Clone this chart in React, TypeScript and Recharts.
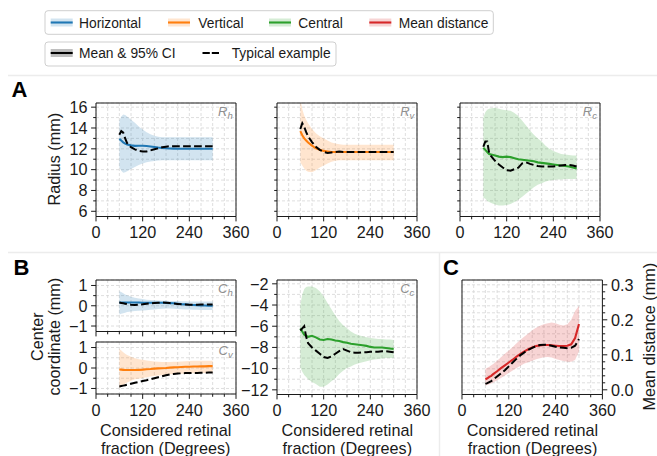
import React from 'react';
import { ComposedChart, Area, Line, XAxis, YAxis, CartesianGrid, ReferenceArea } from 'recharts';

const FONT = '"Liberation Sans", Arial, Helvetica, sans-serif';
const INK = '#1a1a1a';
const BLUE = '#1f77b4';
const ORANGE = '#ff7f0e';
const GREEN = '#2ca02c';
const RED = '#d62728';
const FS = 16.2;

// Considered retinal fraction (degrees)
const degrees = [60, 65, 70, 75, 80, 90, 100, 110, 120, 130, 140, 150, 160, 170, 180, 190, 200, 210, 220, 230, 240, 250, 260, 270, 280, 290, 300];

// A: radius (mm)
const rhMean = [12.95, 12.8, 12.62, 12.5, 12.42, 12.33, 12.28, 12.3, 12.3, 12.27, 12.22, 12.17, 12.12, 12.08, 12.05, 12.03, 12.02, 12.01, 12.0, 12.0, 12.0, 12.0, 12.0, 12.0, 12.0, 12.0, 12.0];
const rhHi = [14.7, 15.1, 15.3, 15.25, 15.1, 14.8, 14.5, 14.15, 13.85, 13.6, 13.4, 13.25, 13.15, 13.1, 13.1, 13.1, 13.1, 13.1, 13.1, 13.1, 13.1, 13.1, 13.1, 13.1, 13.1, 13.1, 13.1];
const rhLo = [10.2, 9.9, 9.7, 9.75, 9.85, 10.05, 10.25, 10.45, 10.6, 10.7, 10.78, 10.84, 10.88, 10.9, 10.9, 10.9, 10.9, 10.9, 10.9, 10.9, 10.9, 10.9, 10.9, 10.9, 10.9, 10.9, 10.9];
const rhTyp = [13.35, 13.7, 13.55, 13.0, 12.55, 12.15, 11.95, 11.8, 11.75, 11.75, 11.85, 11.95, 12.05, 12.15, 12.2, 12.25, 12.25, 12.25, 12.25, 12.25, 12.25, 12.25, 12.25, 12.25, 12.25, 12.25, 12.25];

const rvMean = [13.7, 13.3, 13.0, 12.8, 12.6, 12.3, 12.05, 11.9, 11.8, 11.75, 11.7, 11.7, 11.7, 11.7, 11.7, 11.7, 11.7, 11.7, 11.7, 11.7, 11.7, 11.7, 11.7, 11.7, 11.7, 11.7, 11.7];
const rvHi = [16.8, 15.8, 15.2, 14.8, 14.45, 13.9, 13.5, 13.2, 13.0, 12.8, 12.6, 12.5, 12.45, 12.4, 12.4, 12.4, 12.4, 12.4, 12.4, 12.4, 12.4, 12.4, 12.4, 12.4, 12.4, 12.4, 12.4];
const rvLo = [10.7, 10.4, 10.1, 9.9, 9.8, 9.75, 9.95, 10.2, 10.4, 10.6, 10.75, 10.85, 10.9, 10.9, 10.9, 10.9, 10.9, 10.9, 10.9, 10.9, 10.9, 10.9, 10.9, 10.9, 10.9, 10.9, 10.9];
const rvTyp = [13.9, 14.45, 14.1, 13.6, 13.2, 12.65, 12.2, 11.9, 11.7, 11.6, 11.65, 11.7, 11.75, 11.7, 11.7, 11.7, 11.7, 11.7, 11.7, 11.7, 11.7, 11.7, 11.7, 11.7, 11.7, 11.7, 11.7];

const rcMean = [12.1, 11.9, 11.7, 11.5, 11.45, 11.35, 11.25, 11.2, 11.25, 11.2, 11.1, 11.0, 10.95, 10.9, 10.85, 10.8, 10.7, 10.65, 10.6, 10.55, 10.5, 10.45, 10.4, 10.35, 10.3, 10.2, 10.1];
const rcHi = [15.0, 15.5, 15.75, 15.85, 15.9, 15.95, 15.85, 15.75, 15.7, 15.65, 15.45, 15.15, 14.7, 14.25, 13.75, 13.35, 13.0, 12.7, 12.3, 12.0, 11.8, 11.65, 11.5, 11.45, 11.4, 11.35, 11.35];
const rcLo = [7.3, 7.2, 7.0, 6.9, 6.8, 6.65, 6.55, 6.55, 6.6, 6.7, 6.9, 7.1, 7.4, 7.7, 8.0, 8.3, 8.55, 8.7, 8.85, 8.95, 9.0, 9.05, 9.05, 9.1, 9.1, 9.1, 9.1];
const rcTyp = [12.2, 12.7, 12.7, 11.6, 11.3, 10.85, 10.5, 10.2, 9.95, 9.9, 10.05, 10.2, 10.6, 10.7, 10.55, 10.45, 10.35, 10.3, 10.3, 10.3, 10.3, 10.35, 10.4, 10.45, 10.45, 10.4, 10.3];

// B: center coordinate (mm)
const chMean = [0.16, 0.16, 0.16, 0.16, 0.16, 0.16, 0.16, 0.16, 0.15, 0.15, 0.15, 0.15, 0.15, 0.15, 0.14, 0.13, 0.12, 0.1, 0.08, 0.07, 0.05, 0.04, 0.03, 0.02, 0.01, 0.0, 0.0];
const chHi = [0.72, 0.68, 0.62, 0.56, 0.52, 0.45, 0.4, 0.36, 0.33, 0.3, 0.28, 0.27, 0.26, 0.25, 0.25, 0.24, 0.24, 0.23, 0.22, 0.22, 0.21, 0.21, 0.21, 0.21, 0.21, 0.21, 0.21];
const chLo = [-0.43, -0.4, -0.37, -0.34, -0.31, -0.28, -0.26, -0.25, -0.24, -0.22, -0.2, -0.18, -0.16, -0.15, -0.14, -0.14, -0.15, -0.16, -0.17, -0.18, -0.19, -0.2, -0.2, -0.21, -0.21, -0.21, -0.21];
const chTyp = [0.16, 0.14, 0.12, 0.1, 0.08, 0.05, 0.04, 0.05, 0.07, 0.1, 0.12, 0.14, 0.15, 0.16, 0.15, 0.13, 0.11, 0.09, 0.07, 0.06, 0.05, 0.05, 0.05, 0.06, 0.06, 0.06, 0.06];

const cvMean = [-0.07, -0.08, -0.09, -0.1, -0.1, -0.1, -0.1, -0.09, -0.08, -0.06, -0.05, -0.03, -0.02, -0.01, 0.0, 0.02, 0.03, 0.04, 0.05, 0.06, 0.06, 0.07, 0.07, 0.08, 0.08, 0.09, 0.09];
const cvHi = [0.93, 0.85, 0.77, 0.7, 0.64, 0.55, 0.48, 0.43, 0.4, 0.37, 0.34, 0.32, 0.3, 0.29, 0.29, 0.29, 0.3, 0.31, 0.32, 0.33, 0.34, 0.35, 0.35, 0.36, 0.36, 0.36, 0.36];
const cvLo = [-0.98, -0.9, -0.83, -0.77, -0.71, -0.62, -0.55, -0.52, -0.49, -0.45, -0.42, -0.39, -0.37, -0.35, -0.33, -0.31, -0.3, -0.29, -0.28, -0.27, -0.26, -0.26, -0.25, -0.25, -0.25, -0.25, -0.25];
const cvTyp = [-0.9, -0.88, -0.86, -0.84, -0.82, -0.77, -0.72, -0.68, -0.64, -0.6, -0.55, -0.5, -0.45, -0.4, -0.35, -0.31, -0.29, -0.27, -0.26, -0.25, -0.25, -0.24, -0.24, -0.23, -0.23, -0.22, -0.22];

const ccMean = [-6.2, -6.5, -6.8, -6.9, -7.0, -6.9, -7.05, -7.25, -7.3, -7.2, -7.25, -7.35, -7.4, -7.5, -7.55, -7.65, -7.7, -7.75, -7.8, -7.85, -7.95, -8.0, -8.0, -8.0, -8.05, -8.1, -8.15];
const ccHi = [-4.0, -3.0, -2.5, -2.3, -2.25, -2.25, -2.4, -2.7, -3.2, -3.8, -4.4, -5.0, -5.5, -5.9, -6.2, -6.5, -6.7, -6.85, -6.95, -7.05, -7.1, -7.15, -7.2, -7.2, -7.25, -7.25, -7.3];
const ccLo = [-9.9, -10.3, -10.6, -10.8, -11.0, -11.25, -11.45, -11.7, -11.7, -11.5, -11.2, -10.9, -10.5, -10.2, -9.95, -9.8, -9.6, -9.5, -9.4, -9.3, -9.2, -9.15, -9.1, -9.05, -9.0, -9.0, -9.0];
const ccTyp = [-6.4, -6.2, -6.0, -7.0, -7.6, -8.0, -8.3, -8.6, -8.9, -9.0, -8.85, -8.6, -8.35, -8.15, -8.3, -8.45, -8.5, -8.5, -8.45, -8.45, -8.4, -8.4, -8.4, -8.35, -8.35, -8.4, -8.45];

// C: mean distance (mm)
const mdMean = [0.03, 0.033, 0.037, 0.04, 0.045, 0.053, 0.062, 0.07, 0.078, 0.086, 0.095, 0.103, 0.11, 0.116, 0.121, 0.125, 0.127, 0.128, 0.128, 0.127, 0.126, 0.125, 0.125, 0.126, 0.13, 0.148, 0.188];
const mdHi = [0.06, 0.063, 0.066, 0.07, 0.074, 0.083, 0.093, 0.103, 0.112, 0.122, 0.133, 0.143, 0.152, 0.161, 0.17, 0.177, 0.183, 0.187, 0.19, 0.192, 0.19, 0.186, 0.184, 0.187, 0.2, 0.225, 0.24];
const mdLo = [0.012, 0.014, 0.016, 0.018, 0.021, 0.027, 0.034, 0.041, 0.048, 0.055, 0.062, 0.069, 0.075, 0.079, 0.083, 0.087, 0.09, 0.093, 0.094, 0.092, 0.088, 0.085, 0.082, 0.08, 0.08, 0.085, 0.11];
const mdTyp = [0.017, 0.019, 0.022, 0.025, 0.029, 0.038, 0.047, 0.056, 0.067, 0.078, 0.089, 0.099, 0.107, 0.114, 0.12, 0.125, 0.128, 0.129, 0.128, 0.126, 0.123, 0.121, 0.12, 0.119, 0.12, 0.126, 0.145];

// Ticks
const xTicks = [0, 30, 60, 90, 120, 150, 180, 210, 240, 270, 300, 330, 360];
const xMajor = [0, 120, 240, 360];
const radiusTicks = [6, 7, 8, 9, 10, 11, 12, 13, 14, 15, 16];
const radiusMajor = [6, 8, 10, 12, 14, 16];
const centerTicks = [-1, -0.5, 0, 0.5, 1];
const centerMajor = [-1, 0, 1];
const centralTicks = [-12, -11, -10, -9, -8, -7, -6, -5, -4, -3, -2];
const centralMajor = [-12, -10, -8, -6, -4, -2];
const distTicks = [0, 0.02, 0.04, 0.06, 0.08, 0.1, 0.12, 0.14, 0.16, 0.18, 0.2, 0.22, 0.24, 0.26, 0.28, 0.3];
const distMajor = [0, 0.1, 0.2, 0.3];

const rowsOf = (lo: number[], hi: number[], mean: number[], typ: number[]) =>
  degrees.map((x, i) => ({ x, band: [lo[i], hi[i]], mean: mean[i], typ: typ[i] }));

const isIn = (v: number, arr: number[]) => arr.some((m) => Math.abs(m - v) < 1e-6);
const fmtNum = (v: number, digits = 0) => {
  const s = Math.abs(v).toFixed(digits);
  return v < -1e-9 ? '\u2212' + s : s;
};

const XTick = (props: any) => {
  const { x, y, payload, showLabels } = props;
  const v = payload.value;
  const major = isIn(v, xMajor);
  return (
    <g>
      <line x1={x} x2={x} y1={y} y2={y + (major ? 4.9 : 2.8)} stroke={INK} strokeWidth={1} />
      {major && showLabels ? (
        <text x={x} y={y + 21.5} textAnchor="middle" fontSize={FS} fill={INK} fontFamily={FONT}>
          {v}
        </text>
      ) : null}
    </g>
  );
};

const YTick = (props: any) => {
  const { x, y, payload, side, major, digits } = props;
  const v = payload.value;
  const isMajor = isIn(v, major);
  const dir = side === 'right' ? 1 : -1;
  return (
    <g>
      <line x1={x} x2={x + dir * (isMajor ? 4.9 : 2.8)} y1={y} y2={y} stroke={INK} strokeWidth={1} />
      {isMajor ? (
        <text
          x={x + dir * 8.5}
          y={y + 5.8}
          textAnchor={side === 'right' ? 'start' : 'end'}
          fontSize={FS}
          fill={INK}
          fontFamily={FONT}
        >
          {fmtNum(v, digits)}
        </text>
      ) : null}
    </g>
  );
};

const PADL = 46;
const PADR = 48;
const PADT = 12;
const PADB = 32;

type PanelProps = {
  x: number; y: number; w: number; h: number;
  domain: [number, number];
  yTicks: number[]; yMajor: number[]; digits?: number;
  rows: any[]; color: string; side?: 'left' | 'right'; xLabels?: boolean;
};

function Panel({ x, y, w, h, domain, yTicks, yMajor, digits = 0, rows, color, side = 'left', xLabels = true }: PanelProps) {
  const W = w + PADL + PADR;
  const H = h + PADT + PADB;
  return (
    <div style={{ position: 'absolute', left: x - PADL, top: y - PADT, width: W, height: H }}>
      <ComposedChart
        width={W}
        height={H}
        data={rows}
        margin={{ top: PADT, bottom: 0, left: side === 'left' ? 0 : PADL, right: side === 'left' ? PADR : 0 }}
      >
        <CartesianGrid stroke="#d6d6d6" strokeDasharray="3 2" strokeWidth={0.8} />
        <XAxis
          type="number"
          dataKey="x"
          domain={[0, 360]}
          ticks={xTicks}
          interval={0}
          tick={<XTick showLabels={xLabels} />}
          tickSize={0}
          tickMargin={0}
          tickLine={false}
          axisLine={false}
          height={PADB}
          allowDataOverflow
        />
        <YAxis
          type="number"
          orientation={side}
          domain={domain}
          ticks={yTicks}
          interval={0}
          tick={<YTick side={side} major={yMajor} digits={digits} />}
          tickSize={0}
          tickMargin={0}
          tickLine={false}
          axisLine={false}
          width={side === 'left' ? PADL : PADR}
          allowDataOverflow
        />
        <Area
          type="linear"
          dataKey="band"
          stroke="none"
          fill={color}
          fillOpacity={0.2}
          isAnimationActive={false}
          dot={false}
          activeDot={false}
        />
        <Line type="linear" dataKey="mean" stroke={color} strokeWidth={2.1} dot={false} activeDot={false} isAnimationActive={false} />
        <Line
          type="linear"
          dataKey="typ"
          stroke="#000"
          strokeWidth={2}
          strokeDasharray="7.7 3.3"
          dot={false}
          activeDot={false}
          isAnimationActive={false}
        />
        <ReferenceArea
          x1={0}
          x2={360}
          y1={domain[0]}
          y2={domain[1]}
          fill="none"
          fillOpacity={0}
          stroke={INK}
          strokeWidth={1}
          ifOverflow="visible"
        />
      </ComposedChart>
    </div>
  );
}

const legendTop = [
  { label: 'Horizontal', color: BLUE, hx: 50.7, tx: 79 },
  { label: 'Vertical', color: ORANGE, hx: 168, tx: 198.3 },
  { label: 'Central', color: GREEN, hx: 269, tx: 298.3 },
  { label: 'Mean distance', color: RED, hx: 369.3, tx: 398.7 },
];

const SubLabel = ({ x, y, main, sub }: { x: number; y: number; main: string; sub: string }) => (
  <text x={x} y={y} textAnchor="end" fill="#8f8f8f" fontFamily={FONT} fontStyle="italic">
    <tspan fontSize={13}>{main}</tspan>
    <tspan fontSize={9.5} dy={3}>{sub}</tspan>
  </text>
);

export default function App() {
  const A1 = { x: 95.7, y: 102.5, w: 140, h: 113.5 };
  const A2 = { x: 277.3, y: 102.5, w: 140, h: 113.5 };
  const A3 = { x: 460, y: 102.5, w: 140, h: 113.5 };
  const B1 = { x: 95.7, y: 279.5, w: 140, h: 51.5 };
  const B2 = { x: 95.7, y: 342, w: 140, h: 52 };
  const B3 = { x: 277.3, y: 279.5, w: 140, h: 114.5 };
  const C1 = { x: 462.3, y: 279.5, w: 140.4, h: 114.5 };
  const radiusDomain: [number, number] = [5.5, 16.4];
  const centerDomain: [number, number] = [-1.27, 1.27];

  return (
    <div style={{ position: 'absolute', left: 0, top: 0, width: 657, height: 456, background: '#fff', overflow: 'hidden', fontFamily: FONT }}>
      <Panel {...A1} domain={radiusDomain} yTicks={radiusTicks} yMajor={radiusMajor} rows={rowsOf(rhLo, rhHi, rhMean, rhTyp)} color={BLUE} />
      <Panel {...A2} domain={radiusDomain} yTicks={radiusTicks} yMajor={[]} rows={rowsOf(rvLo, rvHi, rvMean, rvTyp)} color={ORANGE} />
      <Panel {...A3} domain={radiusDomain} yTicks={radiusTicks} yMajor={[]} rows={rowsOf(rcLo, rcHi, rcMean, rcTyp)} color={GREEN} />
      <Panel {...B1} domain={centerDomain} yTicks={centerTicks} yMajor={centerMajor} rows={rowsOf(chLo, chHi, chMean, chTyp)} color={BLUE} xLabels={false} />
      <Panel {...B2} domain={centerDomain} yTicks={centerTicks} yMajor={centerMajor} rows={rowsOf(cvLo, cvHi, cvMean, cvTyp)} color={ORANGE} />
      <Panel {...B3} domain={[-12.44, -1.64]} yTicks={centralTicks} yMajor={centralMajor} rows={rowsOf(ccLo, ccHi, ccMean, ccTyp)} color={GREEN} />
      <Panel {...C1} domain={[-0.0134, 0.3137]} yTicks={distTicks} yMajor={distMajor} digits={1} rows={rowsOf(mdLo, mdHi, mdMean, mdTyp)} color={RED} side="right" />

      <svg width={657} height={456} style={{ position: 'absolute', left: 0, top: 0, pointerEvents: 'none' }} fontFamily={FONT}>
        {/* separators */}
        <line x1={8} x2={657} y1={75.5} y2={75.5} stroke="#ececec" strokeWidth={1.5} />
        <line x1={8} x2={657} y1={252.5} y2={252.5} stroke="#ececec" strokeWidth={1.5} />
        <line x1={439.5} x2={439.5} y1={252.5} y2={456} stroke="#ececec" strokeWidth={1.5} />

        {/* legends */}
        <rect x={45} y={10.7} width={448.3} height={23.6} rx={3} fill="#fff" stroke="#cfcfcf" strokeWidth={1} />
        {legendTop.map((e) => (
          <g key={e.label}>
            <rect x={e.hx} y={18.5} width={22} height={8} fill={e.color} fillOpacity={0.2} />
            <line x1={e.hx} x2={e.hx + 22} y1={22.5} y2={22.5} stroke={e.color} strokeWidth={2.1} />
            <text x={e.tx} y={27.5} fontSize={13.8} fill={INK}>{e.label}</text>
          </g>
        ))}
        <rect x={45} y={42} width={291} height={24} rx={3} fill="#fff" stroke="#cfcfcf" strokeWidth={1} />
        <rect x={50.7} y={49} width={22} height={8} fill="#000" fillOpacity={0.25} />
        <line x1={50.7} x2={72.7} y1={53} y2={53} stroke="#000" strokeWidth={2.1} />
        <text x={79} y={58} fontSize={13.8} fill={INK}>Mean &amp; 95% CI</text>
        <line x1={202.5} x2={219} y1={53} y2={53} stroke="#000" strokeWidth={2} strokeDasharray="7.3 2" />
        <text x={231.7} y={58} fontSize={13.8} fill={INK}>Typical example</text>

        {/* panel letters */}
        <text x={11.5} y={96.5} fontSize={22} fontWeight="bold" fill="#000">A</text>
        <text x={13.5} y={275} fontSize={22} fontWeight="bold" fill="#000">B</text>
        <text x={443} y={275} fontSize={22} fontWeight="bold" fill="#000">C</text>

        {/* sub labels */}
        <SubLabel x={A1.x + A1.w - 3} y={A1.y + 13} main="R" sub="h" />
        <SubLabel x={A2.x + A2.w - 3} y={A2.y + 13} main="R" sub="v" />
        <SubLabel x={A3.x + A3.w - 3} y={A3.y + 13} main="R" sub="c" />
        <SubLabel x={B1.x + B1.w - 3} y={B1.y + 13} main="C" sub="h" />
        <SubLabel x={B2.x + B2.w - 3} y={B2.y + 13} main="C" sub="v" />
        <SubLabel x={B3.x + B3.w - 3} y={B3.y + 13} main="C" sub="c" />

        {/* axis labels */}
        <text transform="rotate(-90)" x={-(A1.y + A1.h / 2)} y={59.5} textAnchor="middle" fontSize={FS} fill={INK}>Radius (mm)</text>
        <text transform="rotate(-90)" x={-336.7} y={42.5} textAnchor="middle" fontSize={FS} fill={INK}>Center</text>
        <text transform="rotate(-90)" x={-336.7} y={60} textAnchor="middle" fontSize={FS} fill={INK}>coordinate (mm)</text>
        <text transform="rotate(-90)" x={-336.7} y={654.5} textAnchor="middle" fontSize={FS} fill={INK}>Mean distance (mm)</text>

        {[B2.x + B2.w / 2, B3.x + B3.w / 2, C1.x + C1.w / 2].map((cx, i) => (
          <g key={i}>
            <text x={cx} y={436} textAnchor="middle" fontSize={FS} fill={INK}>Considered retinal</text>
            <text x={cx} y={454} textAnchor="middle" fontSize={FS} fill={INK}>fraction (Degrees)</text>
          </g>
        ))}
      </svg>
    </div>
  );
}
